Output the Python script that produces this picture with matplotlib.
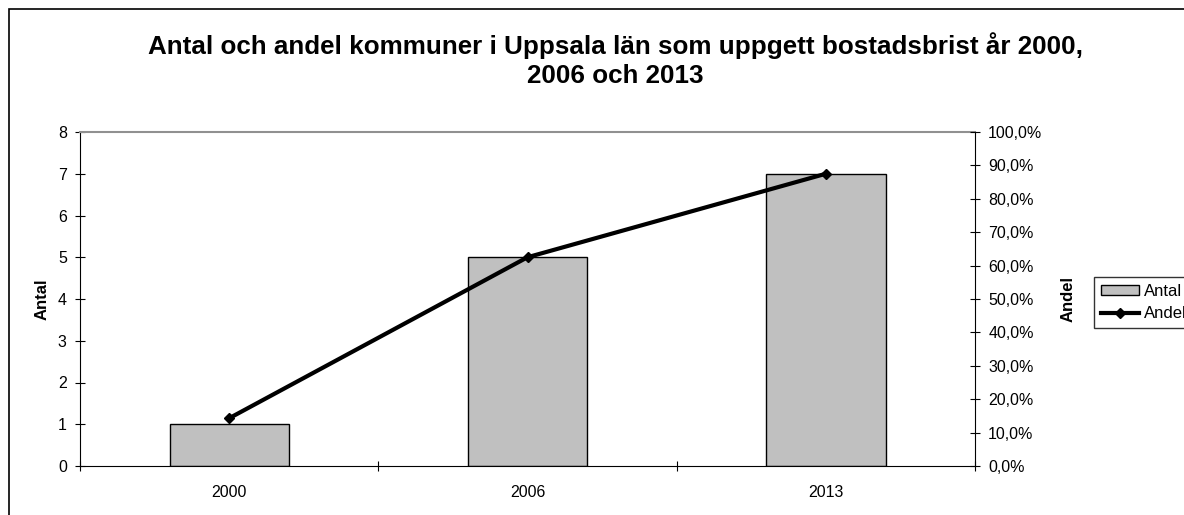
import matplotlib
matplotlib.use("Agg")
import matplotlib.pyplot as plt
from matplotlib.patches import Rectangle
from matplotlib.ticker import FuncFormatter

years = ["2000", "2006", "2013"]
antal = [1, 5, 7]
andel = [0.143, 0.625, 0.875]

plt.rcParams['font.family'] = ['Liberation Sans', 'DejaVu Sans']

fig = plt.figure(figsize=(11.84, 5.15), dpi=100)
# outer chart border (runs off right/bottom edge)
fig.patches.append(Rectangle((9 / 1184, -0.05), 1.2, 1 - 9 / 515 + 0.05,
                             transform=fig.transFigure, fill=False,
                             edgecolor='black', linewidth=1.2))

ax = fig.add_axes([80 / 1184, 1 - 466 / 515, 895 / 1184, 334 / 515])
x = list(range(len(years)))
ax.bar(x, antal, width=0.4, color='#c0c0c0', edgecolor='black', linewidth=1, label='Antal')
ax.set_xlim(-0.5, 2.5)
ax.set_ylim(0, 8)
ax.set_yticks(range(0, 9))
ax.set_xticks([-0.5, 0.5, 1.5, 2.5])
ax.set_xticklabels([])
ax.set_xticks(x, minor=True)
ax.set_xticklabels(years, minor=True)
ax.tick_params(axis='x', which='minor', length=0, pad=14, labelsize=11.5)
ax.tick_params(axis='x', which='major', direction='inout', length=7)
ax.tick_params(axis='y', direction='inout', length=7, labelsize=11.5, pad=6)
ax.spines['right'].set_visible(False)
ax.spines['top'].set_color('#909090')
ax.spines['top'].set_linewidth(1.5)
ax.set_ylabel('Antal', fontweight='bold', fontsize=12, labelpad=6)

ax2 = ax.twinx()
ax2.plot(x, andel, color='black', linewidth=3, marker='D', markersize=5, label='Andel')
ax2.set_ylim(0, 1)
ax2.set_yticks([i / 10 for i in range(11)])
ax2.yaxis.set_major_formatter(FuncFormatter(lambda v, p: f"{v * 100:.1f}%".replace('.', ',')))
ax2.tick_params(axis='y', direction='inout', length=7, labelsize=11.5, pad=6)
for s in ['top', 'left', 'bottom']:
    ax2.spines[s].set_visible(False)
ax2.set_ylabel('Andel', fontweight='bold', fontsize=12, labelpad=13)

fig.text(615 / 1184, 1 - 60 / 515,
         "Antal och andel kommuner i Uppsala län som uppgett bostadsbrist år 2000,\n2006 och 2013",
         ha='center', va='center', fontsize=18.7, fontweight='bold', linespacing=1.3)

h1, l1 = ax.get_legend_handles_labels()
h2, l2 = ax2.get_legend_handles_labels()
leg = fig.legend(h1 + h2, l1 + l2, loc='upper left', bbox_to_anchor=(1094 / 1184, 1 - 277 / 515),
                 frameon=True, fancybox=False, edgecolor='black', fontsize=12,
                 handlelength=2.3, handleheight=0.5, borderaxespad=0, borderpad=0.4,
                 handletextpad=0.3, labelspacing=0.45)
leg.get_frame().set_linewidth(1)

fig.savefig('out.png', dpi=100)
